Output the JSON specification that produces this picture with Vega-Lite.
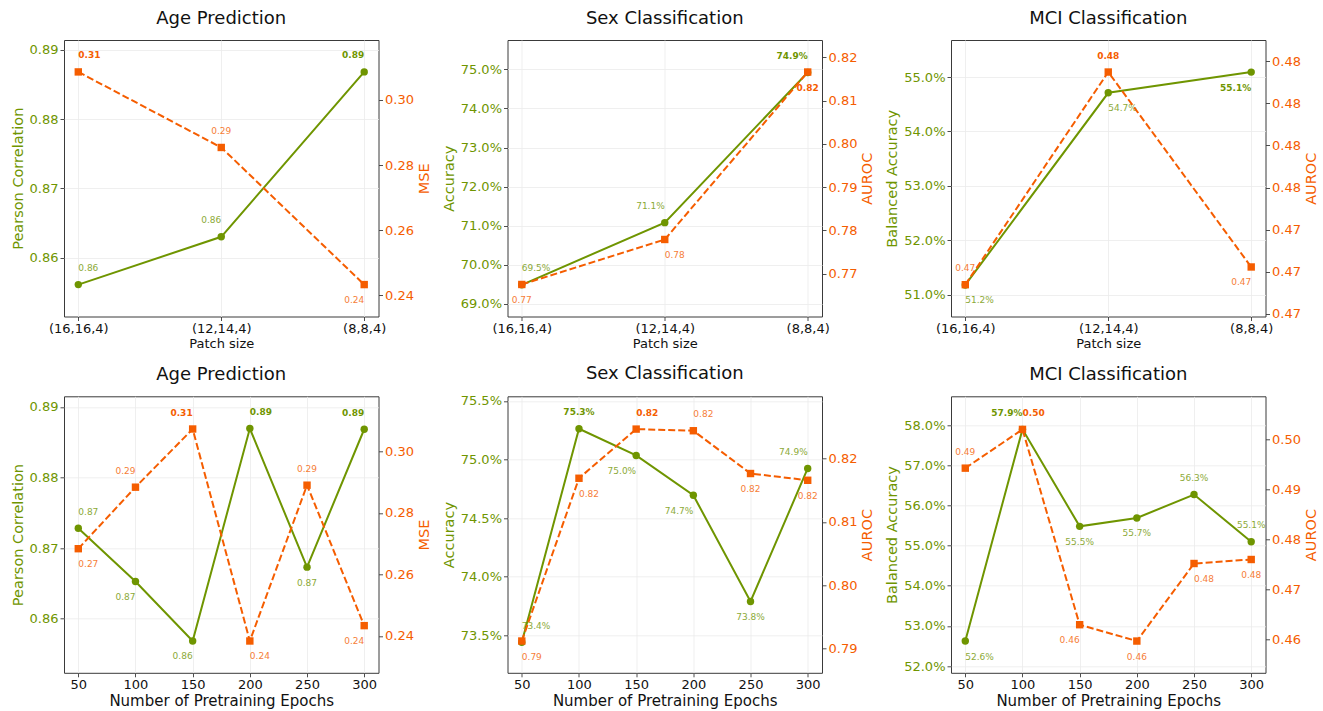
{
"$schema": "https://vega.github.io/schema/vega-lite/v6.json",
"padding": {"left": 9, "top": 9, "right": 5, "bottom": 5},
"columns": 3,
"spacing": {"row": 79.3, "column": 128.5},
"bounds": "flush",
"concat": [
{
 "title": "Age Prediction", "width": 314.5, "height": 276.5,
 "data": {"values": [
  {"x": "(16,16,4)", "l": 0.8561, "r": 0.3086, "lv": "above", "la": "left", "lb": false, "rv": "above", "ra": "left", "rb": true},
  {"x": "(12,14,4)", "l": 0.8630, "r": 0.2854, "lv": "above", "la": "right", "lb": false, "rv": "above", "ra": "center", "rb": false},
  {"x": "(8,8,4)", "l": 0.8868, "r": 0.2433, "lv": "above", "la": "right", "lb": true, "rv": "below", "ra": "right", "rb": false}
 ]},
 "encoding": {"x": {"field": "x", "type": "nominal", "sort": null, "scale": {"type": "point", "padding": 0.1}, "axis": {"title": "Patch size", "labelAngle": 0}}},
 "layer": [
  {"encoding": {"y": {"field": "l", "type": "quantitative", "scale": {"domain": [0.8515, 0.8914], "nice": false, "zero": false}, "axis": {"orient": "left", "title": "Pearson Correlation", "values": [0.86, 0.87, 0.88, 0.89], "format": ".2f", "labelColor": "#6f9500", "titleColor": "#6f9500", "grid": true}}},
   "layer": [
    {"mark": {"type": "line", "color": "#6f9500", "strokeWidth": 2}, "encoding": {"order": {"value": null}}},
    {"mark": {"type": "point", "shape": "circle", "filled": true, "size": 55, "opacity": 1, "color": "#6f9500"}},
    {"mark": {"type": "text", "fontSize": 9, "color": "#6f9500", "baseline": "middle", "align": {"expr": "datum.la"}, "dy": {"expr": "datum.lv == 'above' ? -16.5 : 15.5"}, "fontWeight": {"expr": "datum.lb ? 'bold' : 'normal'"}, "opacity": {"expr": "datum.lb ? 1 : 0.8"}}, "encoding": {"text": {"field": "l", "format": ".2f"}}}
   ]},
  {"encoding": {"y": {"field": "r", "type": "quantitative", "scale": {"domain": [0.2335, 0.3184], "nice": false, "zero": false}, "axis": {"orient": "right", "title": "MSE", "titleAngle": 270, "titleBaseline": "top", "values": [0.24, 0.26, 0.28, 0.30], "format": ".2f", "labelColor": "#f55d00", "titleColor": "#f55d00", "grid": false}}},
   "layer": [
    {"mark": {"type": "line", "color": "#f55d00", "strokeWidth": 2, "strokeDash": [7, 3]}, "encoding": {"order": {"value": null}}},
    {"mark": {"type": "point", "shape": "square", "filled": true, "size": 55, "opacity": 1, "color": "#f55d00"}},
    {"mark": {"type": "text", "fontSize": 9, "color": "#f55d00", "baseline": "middle", "align": {"expr": "datum.ra"}, "dy": {"expr": "datum.rv == 'above' ? -16.5 : 15.5"}, "fontWeight": {"expr": "datum.rb ? 'bold' : 'normal'"}, "opacity": {"expr": "datum.rb ? 1 : 0.8"}}, "encoding": {"text": {"field": "r", "format": ".2f"}}}
   ]}
 ],
 "resolve": {"scale": {"y": "independent"}}
},
{
 "title": "Sex Classification", "width": 314.5, "height": 276.5,
 "data": {"values": [
  {"x": "(16,16,4)", "l": 0.6949, "r": 0.7675, "lv": "above", "la": "left", "lb": false, "rv": "below", "ra": "center", "rb": false},
  {"x": "(12,14,4)", "l": 0.7108, "r": 0.7779, "lv": "above", "la": "right", "lb": false, "rv": "below", "ra": "left", "rb": false},
  {"x": "(8,8,4)", "l": 0.7492, "r": 0.8166, "lv": "above", "la": "right", "lb": true, "rv": "below", "ra": "center", "rb": true}
 ]},
 "encoding": {"x": {"field": "x", "type": "nominal", "sort": null, "scale": {"type": "point", "padding": 0.1}, "axis": {"title": "Patch size", "labelAngle": 0}}},
 "layer": [
  {"encoding": {"y": {"field": "l", "type": "quantitative", "scale": {"domain": [0.6868, 0.7575], "nice": false, "zero": false}, "axis": {"orient": "left", "title": "Accuracy", "values": [0.69, 0.70, 0.71, 0.72, 0.73, 0.74, 0.75], "format": ".1%", "labelColor": "#6f9500", "titleColor": "#6f9500", "grid": true}}},
   "layer": [
    {"mark": {"type": "line", "color": "#6f9500", "strokeWidth": 2}, "encoding": {"order": {"value": null}}},
    {"mark": {"type": "point", "shape": "circle", "filled": true, "size": 55, "opacity": 1, "color": "#6f9500"}},
    {"mark": {"type": "text", "fontSize": 9, "color": "#6f9500", "baseline": "middle", "align": {"expr": "datum.la"}, "dy": {"expr": "datum.lv == 'above' ? -16.5 : 15.5"}, "fontWeight": {"expr": "datum.lb ? 'bold' : 'normal'"}, "opacity": {"expr": "datum.lb ? 1 : 0.8"}}, "encoding": {"text": {"field": "l", "format": ".1%"}}}
   ]},
  {"encoding": {"y": {"field": "r", "type": "quantitative", "scale": {"domain": [0.7601, 0.8240], "nice": false, "zero": false}, "axis": {"orient": "right", "title": "AUROC", "titleAngle": 270, "titleBaseline": "top", "values": [0.77, 0.78, 0.79, 0.80, 0.81, 0.82], "format": ".2f", "labelColor": "#f55d00", "titleColor": "#f55d00", "grid": false}}},
   "layer": [
    {"mark": {"type": "line", "color": "#f55d00", "strokeWidth": 2, "strokeDash": [7, 3]}, "encoding": {"order": {"value": null}}},
    {"mark": {"type": "point", "shape": "square", "filled": true, "size": 55, "opacity": 1, "color": "#f55d00"}},
    {"mark": {"type": "text", "fontSize": 9, "color": "#f55d00", "baseline": "middle", "align": {"expr": "datum.ra"}, "dy": {"expr": "datum.rv == 'above' ? -16.5 : 15.5"}, "fontWeight": {"expr": "datum.rb ? 'bold' : 'normal'"}, "opacity": {"expr": "datum.rb ? 1 : 0.8"}}, "encoding": {"text": {"field": "r", "format": ".2f"}}}
   ]}
 ],
 "resolve": {"scale": {"y": "independent"}}
},
{
 "title": "MCI Classification", "width": 314.5, "height": 276.5,
 "data": {"values": [
  {"x": "(16,16,4)", "l": 0.5118, "r": 0.47139, "lv": "below", "la": "left", "lb": false, "rv": "above", "ra": "center", "rb": false},
  {"x": "(12,14,4)", "l": 0.5471, "r": 0.48148, "lv": "below", "la": "left", "lb": false, "rv": "above", "ra": "center", "rb": true},
  {"x": "(8,8,4)", "l": 0.5509, "r": 0.47223, "lv": "below", "la": "right", "lb": true, "rv": "below", "ra": "right", "rb": false}
 ]},
 "encoding": {"x": {"field": "x", "type": "nominal", "sort": null, "scale": {"type": "point", "padding": 0.1}, "axis": {"title": "Patch size", "labelAngle": 0}}},
 "layer": [
  {"encoding": {"y": {"field": "l", "type": "quantitative", "scale": {"domain": [0.5060, 0.5568], "nice": false, "zero": false}, "axis": {"orient": "left", "title": "Balanced Accuracy", "values": [0.51, 0.52, 0.53, 0.54, 0.55], "format": ".1%", "labelColor": "#6f9500", "titleColor": "#6f9500", "grid": true}}},
   "layer": [
    {"mark": {"type": "line", "color": "#6f9500", "strokeWidth": 2}, "encoding": {"order": {"value": null}}},
    {"mark": {"type": "point", "shape": "circle", "filled": true, "size": 55, "opacity": 1, "color": "#6f9500"}},
    {"mark": {"type": "text", "fontSize": 9, "color": "#6f9500", "baseline": "middle", "align": {"expr": "datum.la"}, "dy": {"expr": "datum.lv == 'above' ? -16.5 : 15.5"}, "fontWeight": {"expr": "datum.lb ? 'bold' : 'normal'"}, "opacity": {"expr": "datum.lb ? 1 : 0.8"}}, "encoding": {"text": {"field": "l", "format": ".1%"}}}
   ]},
  {"encoding": {"y": {"field": "r", "type": "quantitative", "scale": {"domain": [0.46988, 0.48300], "nice": false, "zero": false}, "axis": {"orient": "right", "title": "AUROC", "titleAngle": 270, "titleBaseline": "top", "values": [0.470, 0.472, 0.474, 0.476, 0.478, 0.480, 0.482], "format": ".2f", "labelColor": "#f55d00", "titleColor": "#f55d00", "grid": false}}},
   "layer": [
    {"mark": {"type": "line", "color": "#f55d00", "strokeWidth": 2, "strokeDash": [7, 3]}, "encoding": {"order": {"value": null}}},
    {"mark": {"type": "point", "shape": "square", "filled": true, "size": 55, "opacity": 1, "color": "#f55d00"}},
    {"mark": {"type": "text", "fontSize": 9, "color": "#f55d00", "baseline": "middle", "align": {"expr": "datum.ra"}, "dy": {"expr": "datum.rv == 'above' ? -16.5 : 15.5"}, "fontWeight": {"expr": "datum.rb ? 'bold' : 'normal'"}, "opacity": {"expr": "datum.rb ? 1 : 0.8"}}, "encoding": {"text": {"field": "r", "format": ".2f"}}}
   ]}
 ],
 "resolve": {"scale": {"y": "independent"}}
},
{
 "title": "Age Prediction", "width": 314.5, "height": 276.5,
 "data": {"values": [
  {"x": 50, "l": 0.8728, "r": 0.26837, "lv": "above", "la": "left", "lb": false, "rv": "below", "ra": "left", "rb": false},
  {"x": 100, "l": 0.86525, "r": 0.28836, "lv": "below", "la": "right", "lb": false, "rv": "above", "ra": "right", "rb": false},
  {"x": 150, "l": 0.85683, "r": 0.30727, "lv": "below", "la": "right", "lb": false, "rv": "above", "ra": "right", "rb": true},
  {"x": 200, "l": 0.88693, "r": 0.23837, "lv": "above", "la": "left", "lb": true, "rv": "below", "ra": "left", "rb": false},
  {"x": 250, "l": 0.86729, "r": 0.28901, "lv": "below", "la": "center", "lb": false, "rv": "above", "ra": "center", "rb": false},
  {"x": 300, "l": 0.88683, "r": 0.24336, "lv": "above", "la": "right", "lb": true, "rv": "below", "ra": "right", "rb": false}
 ]},
 "encoding": {"x": {"field": "x", "type": "quantitative", "scale": {"domain": [37.5, 312.5], "nice": false, "zero": false}, "axis": {"title": "Number of Pretraining Epochs", "titleFontSize": 15, "values": [50, 100, 150, 200, 250, 300], "format": "d"}}},
 "layer": [
  {"encoding": {"y": {"field": "l", "type": "quantitative", "scale": {"domain": [0.85232, 0.89150], "nice": false, "zero": false}, "axis": {"orient": "left", "title": "Pearson Correlation", "values": [0.86, 0.87, 0.88, 0.89], "format": ".2f", "labelColor": "#6f9500", "titleColor": "#6f9500", "grid": true}}},
   "layer": [
    {"mark": {"type": "line", "color": "#6f9500", "strokeWidth": 2}},
    {"mark": {"type": "point", "shape": "circle", "filled": true, "size": 55, "opacity": 1, "color": "#6f9500"}},
    {"mark": {"type": "text", "fontSize": 9, "color": "#6f9500", "baseline": "middle", "align": {"expr": "datum.la"}, "dy": {"expr": "datum.lv == 'above' ? -16.5 : 15.5"}, "fontWeight": {"expr": "datum.lb ? 'bold' : 'normal'"}, "opacity": {"expr": "datum.lb ? 1 : 0.8"}}, "encoding": {"text": {"field": "l", "format": ".2f"}}}
   ]},
  {"encoding": {"y": {"field": "r", "type": "quantitative", "scale": {"domain": [0.22803, 0.31790], "nice": false, "zero": false}, "axis": {"orient": "right", "title": "MSE", "titleAngle": 270, "titleBaseline": "top", "values": [0.24, 0.26, 0.28, 0.30], "format": ".2f", "labelColor": "#f55d00", "titleColor": "#f55d00", "grid": false}}},
   "layer": [
    {"mark": {"type": "line", "color": "#f55d00", "strokeWidth": 2, "strokeDash": [7, 3]}},
    {"mark": {"type": "point", "shape": "square", "filled": true, "size": 55, "opacity": 1, "color": "#f55d00"}},
    {"mark": {"type": "text", "fontSize": 9, "color": "#f55d00", "baseline": "middle", "align": {"expr": "datum.ra"}, "dy": {"expr": "datum.rv == 'above' ? -16.5 : 15.5"}, "fontWeight": {"expr": "datum.rb ? 'bold' : 'normal'"}, "opacity": {"expr": "datum.rb ? 1 : 0.8"}}, "encoding": {"text": {"field": "r", "format": ".2f"}}}
   ]}
 ],
 "resolve": {"scale": {"y": "independent"}}
},
{
 "title": "Sex Classification", "width": 314.5, "height": 276.5,
 "data": {"values": [
  {"x": 50, "l": 0.7344, "r": 0.79116, "lv": "above", "la": "left", "lb": false, "rv": "below", "ra": "left", "rb": false},
  {"x": 100, "l": 0.75263, "r": 0.81692, "lv": "above", "la": "center", "lb": true, "rv": "below", "ra": "left", "rb": false},
  {"x": 150, "l": 0.75035, "r": 0.8247, "lv": "below", "la": "right", "lb": false, "rv": "above", "ra": "left", "rb": true},
  {"x": 200, "l": 0.74695, "r": 0.82444, "lv": "below", "la": "right", "lb": false, "rv": "above", "ra": "left", "rb": false},
  {"x": 250, "l": 0.73788, "r": 0.81767, "lv": "below", "la": "center", "lb": false, "rv": "below", "ra": "center", "rb": false},
  {"x": 300, "l": 0.74924, "r": 0.8166, "lv": "above", "la": "right", "lb": false, "rv": "below", "ra": "center", "rb": false}
 ]},
 "encoding": {"x": {"field": "x", "type": "quantitative", "scale": {"domain": [37.5, 312.5], "nice": false, "zero": false}, "axis": {"title": "Number of Pretraining Epochs", "titleFontSize": 15, "values": [50, 100, 150, 200, 250, 300], "format": "d"}}},
 "layer": [
  {"encoding": {"y": {"field": "l", "type": "quantitative", "scale": {"domain": [0.73179, 0.75540], "nice": false, "zero": false}, "axis": {"orient": "left", "title": "Accuracy", "values": [0.735, 0.74, 0.745, 0.75, 0.755], "format": ".1%", "labelColor": "#6f9500", "titleColor": "#6f9500", "grid": true}}},
   "layer": [
    {"mark": {"type": "line", "color": "#6f9500", "strokeWidth": 2}},
    {"mark": {"type": "point", "shape": "circle", "filled": true, "size": 55, "opacity": 1, "color": "#6f9500"}},
    {"mark": {"type": "text", "fontSize": 9, "color": "#6f9500", "baseline": "middle", "align": {"expr": "datum.la"}, "dy": {"expr": "datum.lv == 'above' ? -16.5 : 15.5"}, "fontWeight": {"expr": "datum.lb ? 'bold' : 'normal'"}, "opacity": {"expr": "datum.lb ? 1 : 0.8"}}, "encoding": {"text": {"field": "l", "format": ".1%"}}}
   ]},
  {"encoding": {"y": {"field": "r", "type": "quantitative", "scale": {"domain": [0.78613, 0.82989], "nice": false, "zero": false}, "axis": {"orient": "right", "title": "AUROC", "titleAngle": 270, "titleBaseline": "top", "values": [0.79, 0.80, 0.81, 0.82], "format": ".2f", "labelColor": "#f55d00", "titleColor": "#f55d00", "grid": false}}},
   "layer": [
    {"mark": {"type": "line", "color": "#f55d00", "strokeWidth": 2, "strokeDash": [7, 3]}},
    {"mark": {"type": "point", "shape": "square", "filled": true, "size": 55, "opacity": 1, "color": "#f55d00"}},
    {"mark": {"type": "text", "fontSize": 9, "color": "#f55d00", "baseline": "middle", "align": {"expr": "datum.ra"}, "dy": {"expr": "datum.rv == 'above' ? -16.5 : 15.5"}, "fontWeight": {"expr": "datum.rb ? 'bold' : 'normal'"}, "opacity": {"expr": "datum.rb ? 1 : 0.8"}}, "encoding": {"text": {"field": "r", "format": ".2f"}}}
   ]}
 ],
 "resolve": {"scale": {"y": "independent"}}
},
{
 "title": "MCI Classification", "width": 314.5, "height": 276.5,
 "data": {"values": [
  {"x": 50, "l": 0.52624, "r": 0.49432, "lv": "below", "la": "left", "lb": false, "rv": "above", "ra": "center", "rb": false},
  {"x": 100, "l": 0.57893, "r": 0.50207, "lv": "above", "la": "right", "lb": true, "rv": "above", "ra": "left", "rb": true},
  {"x": 150, "l": 0.55479, "r": 0.46301, "lv": "below", "la": "center", "lb": false, "rv": "below", "ra": "right", "rb": false},
  {"x": 200, "l": 0.55688, "r": 0.45974, "lv": "below", "la": "center", "lb": false, "rv": "below", "ra": "center", "rb": false},
  {"x": 250, "l": 0.5627, "r": 0.47525, "lv": "above", "la": "center", "lb": false, "rv": "below", "ra": "left", "rb": false},
  {"x": 300, "l": 0.55097, "r": 0.47605, "lv": "above", "la": "center", "lb": false, "rv": "below", "ra": "center", "rb": false}
 ]},
 "encoding": {"x": {"field": "x", "type": "quantitative", "scale": {"domain": [37.5, 312.5], "nice": false, "zero": false}, "axis": {"title": "Number of Pretraining Epochs", "titleFontSize": 15, "values": [50, 100, 150, 200, 250, 300], "format": "d"}}},
 "layer": [
  {"encoding": {"y": {"field": "l", "type": "quantitative", "scale": {"domain": [0.51834, 0.58716], "nice": false, "zero": false}, "axis": {"orient": "left", "title": "Balanced Accuracy", "values": [0.52, 0.53, 0.54, 0.55, 0.56, 0.57, 0.58], "format": ".1%", "labelColor": "#6f9500", "titleColor": "#6f9500", "grid": true}}},
   "layer": [
    {"mark": {"type": "line", "color": "#6f9500", "strokeWidth": 2}},
    {"mark": {"type": "point", "shape": "circle", "filled": true, "size": 55, "opacity": 1, "color": "#6f9500"}},
    {"mark": {"type": "text", "fontSize": 9, "color": "#6f9500", "baseline": "middle", "align": {"expr": "datum.la"}, "dy": {"expr": "datum.lv == 'above' ? -16.5 : 15.5"}, "fontWeight": {"expr": "datum.lb ? 'bold' : 'normal'"}, "opacity": {"expr": "datum.lb ? 1 : 0.8"}}, "encoding": {"text": {"field": "l", "format": ".1%"}}}
   ]},
  {"encoding": {"y": {"field": "r", "type": "quantitative", "scale": {"domain": [0.45339, 0.50869], "nice": false, "zero": false}, "axis": {"orient": "right", "title": "AUROC", "titleAngle": 270, "titleBaseline": "top", "values": [0.46, 0.47, 0.48, 0.49, 0.50], "format": ".2f", "labelColor": "#f55d00", "titleColor": "#f55d00", "grid": false}}},
   "layer": [
    {"mark": {"type": "line", "color": "#f55d00", "strokeWidth": 2, "strokeDash": [7, 3]}},
    {"mark": {"type": "point", "shape": "square", "filled": true, "size": 55, "opacity": 1, "color": "#f55d00"}},
    {"mark": {"type": "text", "fontSize": 9, "color": "#f55d00", "baseline": "middle", "align": {"expr": "datum.ra"}, "dy": {"expr": "datum.rv == 'above' ? -16.5 : 15.5"}, "fontWeight": {"expr": "datum.rb ? 'bold' : 'normal'"}, "opacity": {"expr": "datum.rb ? 1 : 0.8"}}, "encoding": {"text": {"field": "r", "format": ".2f"}}}
   ]}
 ],
 "resolve": {"scale": {"y": "independent"}}
}
],
"config": {
 "font": "DejaVu Sans",
 "background": "white",
 "view": {"stroke": "#3a3a3a", "strokeWidth": 1},
 "axis": {"domain": false, "tickColor": "#3a3a3a", "tickSize": 4, "tickWidth": 0.9, "labelFontSize": 13, "labelColor": "#111111", "titleFontSize": 14.5, "titleFontWeight": "normal", "titleColor": "#111111", "gridColor": "#ebebeb", "gridWidth": 0.8, "labelPadding": 2, "titlePadding": 4},
 "axisX": {"grid": true, "titleFontSize": 13, "titlePadding": 2},
 "title": {"fontSize": 18, "fontWeight": "normal", "color": "#111111", "offset": 12}
}
}
